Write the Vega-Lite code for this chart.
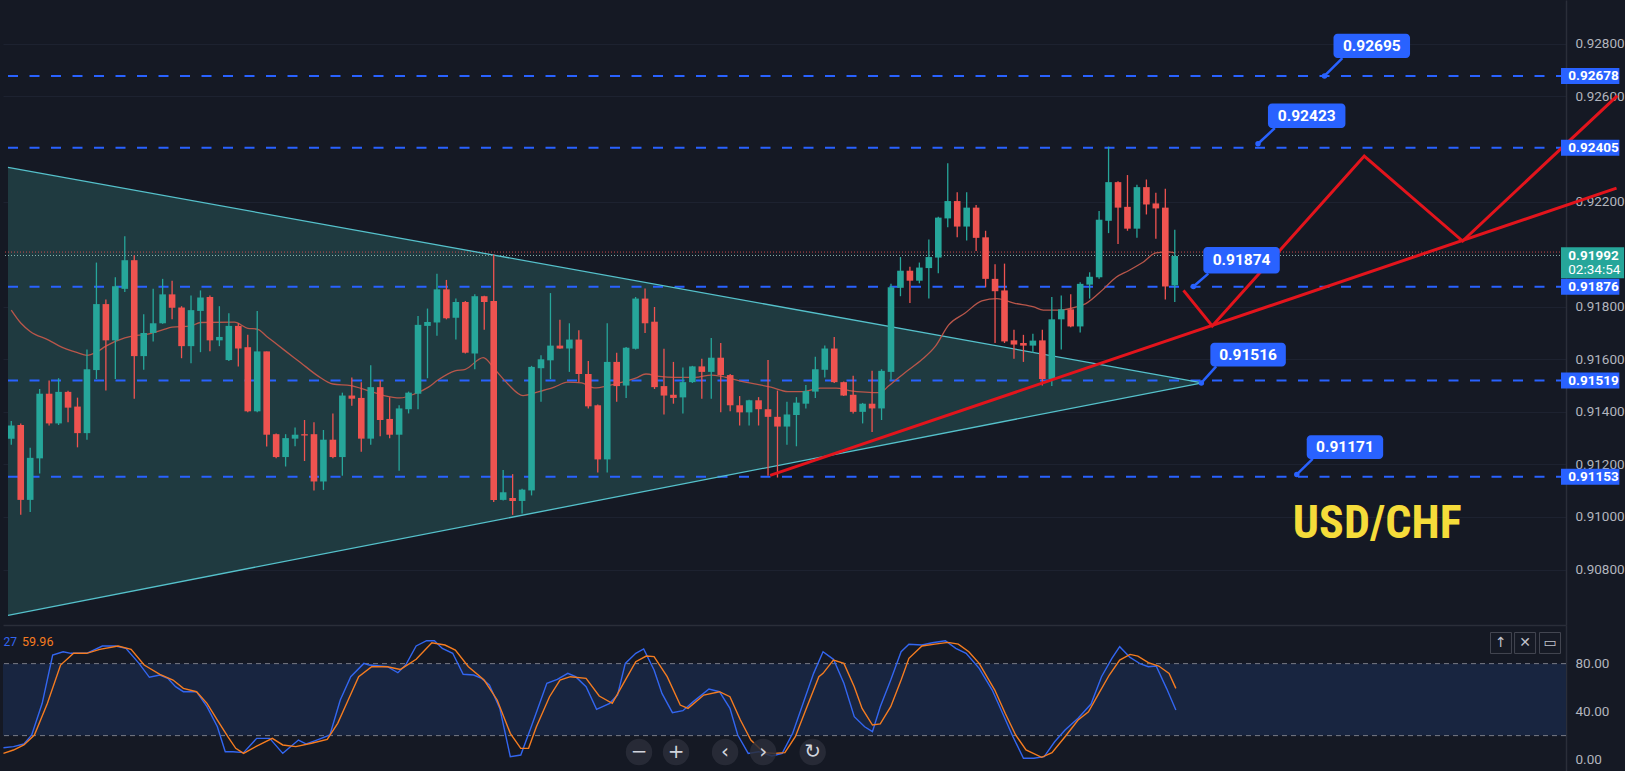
{
"$schema": "https://vega.github.io/schema/vega-lite/v6.json",
"background": "#151924",
"padding": 0,
"spacing": 0,
"config": {"view": {"stroke": null}, "font": "Roboto"},
"datasets": {
"one": [{}],
"candles": [
{"i":0,"o":0.91298,"h":0.91365,"l":0.91275,"c":0.91348},
{"i":1,"o":0.91350,"h":0.91356,"l":0.91008,"c":0.91065},
{"i":2,"o":0.91065,"h":0.91263,"l":0.91019,"c":0.91225},
{"i":3,"o":0.91223,"h":0.91487,"l":0.91165,"c":0.91469},
{"i":4,"o":0.91469,"h":0.91519,"l":0.91348,"c":0.91356},
{"i":5,"o":0.91356,"h":0.91528,"l":0.91350,"c":0.91476},
{"i":6,"o":0.91476,"h":0.91480,"l":0.91360,"c":0.91416},
{"i":7,"o":0.91420,"h":0.91454,"l":0.91265,"c":0.91319},
{"i":8,"o":0.91319,"h":0.91637,"l":0.91294,"c":0.91562},
{"i":9,"o":0.91559,"h":0.91968,"l":0.91525,"c":0.91810},
{"i":10,"o":0.91810,"h":0.91827,"l":0.91481,"c":0.91672},
{"i":11,"o":0.91672,"h":0.91912,"l":0.91525,"c":0.91878},
{"i":12,"o":0.91868,"h":0.92068,"l":0.91856,"c":0.91977},
{"i":13,"o":0.91977,"h":0.91996,"l":0.91450,"c":0.91612},
{"i":14,"o":0.91612,"h":0.91771,"l":0.91560,"c":0.91700},
{"i":15,"o":0.91700,"h":0.91868,"l":0.91668,"c":0.91737},
{"i":16,"o":0.91737,"h":0.91906,"l":0.91735,"c":0.91847},
{"i":17,"o":0.91847,"h":0.91899,"l":0.91752,"c":0.91796},
{"i":18,"o":0.91797,"h":0.91802,"l":0.91604,"c":0.91650},
{"i":19,"o":0.91650,"h":0.91843,"l":0.91585,"c":0.91787},
{"i":20,"o":0.91784,"h":0.91862,"l":0.91627,"c":0.91835},
{"i":21,"o":0.91837,"h":0.91843,"l":0.91631,"c":0.91672},
{"i":22,"o":0.91672,"h":0.91802,"l":0.91650,"c":0.91685},
{"i":23,"o":0.91597,"h":0.91775,"l":0.91593,"c":0.91727},
{"i":24,"o":0.91727,"h":0.91737,"l":0.91573,"c":0.91641},
{"i":25,"o":0.91646,"h":0.91693,"l":0.91398,"c":0.91402},
{"i":26,"o":0.91402,"h":0.91784,"l":0.91398,"c":0.91630},
{"i":27,"o":0.91630,"h":0.91630,"l":0.91268,"c":0.91313},
{"i":28,"o":0.91315,"h":0.91318,"l":0.91223,"c":0.91228},
{"i":29,"o":0.91228,"h":0.91315,"l":0.91192,"c":0.91300},
{"i":30,"o":0.91298,"h":0.91340,"l":0.91269,"c":0.91313},
{"i":31,"o":0.91315,"h":0.91369,"l":0.91213,"c":0.91310},
{"i":32,"o":0.91315,"h":0.91360,"l":0.91101,"c":0.91135},
{"i":33,"o":0.91135,"h":0.91331,"l":0.91103,"c":0.91294},
{"i":34,"o":0.91294,"h":0.91394,"l":0.91223,"c":0.91228},
{"i":35,"o":0.91228,"h":0.91473,"l":0.91157,"c":0.91462},
{"i":36,"o":0.91462,"h":0.91531,"l":0.91423,"c":0.91450},
{"i":37,"o":0.91453,"h":0.91513,"l":0.91248,"c":0.91298},
{"i":38,"o":0.91298,"h":0.91577,"l":0.91275,"c":0.91494},
{"i":39,"o":0.91494,"h":0.91519,"l":0.91307,"c":0.91369},
{"i":40,"o":0.91373,"h":0.91456,"l":0.91300,"c":0.91313},
{"i":41,"o":0.91313,"h":0.91425,"l":0.91176,"c":0.91413},
{"i":42,"o":0.91410,"h":0.91477,"l":0.91394,"c":0.91473},
{"i":43,"o":0.91469,"h":0.91765,"l":0.91410,"c":0.91731},
{"i":44,"o":0.91727,"h":0.91793,"l":0.91528,"c":0.91742},
{"i":45,"o":0.91740,"h":0.91925,"l":0.91690,"c":0.91866},
{"i":46,"o":0.91866,"h":0.91902,"l":0.91752,"c":0.91756},
{"i":47,"o":0.91758,"h":0.91831,"l":0.91675,"c":0.91818},
{"i":48,"o":0.91818,"h":0.91822,"l":0.91622,"c":0.91625},
{"i":49,"o":0.91622,"h":0.91847,"l":0.91562,"c":0.91840},
{"i":50,"o":0.91840,"h":0.91842,"l":0.91712,"c":0.91818},
{"i":51,"o":0.91822,"h":0.91999,"l":0.91057,"c":0.91065},
{"i":52,"o":0.91065,"h":0.91179,"l":0.91063,"c":0.91094},
{"i":53,"o":0.91072,"h":0.91163,"l":0.91008,"c":0.91061},
{"i":54,"o":0.91061,"h":0.91107,"l":0.91013,"c":0.91104},
{"i":55,"o":0.91101,"h":0.91575,"l":0.91082,"c":0.91571},
{"i":56,"o":0.91566,"h":0.91615,"l":0.91438,"c":0.91600},
{"i":57,"o":0.91596,"h":0.91852,"l":0.91525,"c":0.91652},
{"i":58,"o":0.91652,"h":0.91750,"l":0.91640,"c":0.91641},
{"i":59,"o":0.91641,"h":0.91737,"l":0.91552,"c":0.91675},
{"i":60,"o":0.91675,"h":0.91710,"l":0.91513,"c":0.91544},
{"i":61,"o":0.91544,"h":0.91593,"l":0.91413,"c":0.91421},
{"i":62,"o":0.91425,"h":0.91428,"l":0.91169,"c":0.91219},
{"i":63,"o":0.91219,"h":0.91737,"l":0.91169,"c":0.91590},
{"i":64,"o":0.91590,"h":0.91625,"l":0.91438,"c":0.91498},
{"i":65,"o":0.91500,"h":0.91647,"l":0.91453,"c":0.91644},
{"i":66,"o":0.91640,"h":0.91837,"l":0.91637,"c":0.91831},
{"i":67,"o":0.91831,"h":0.91869,"l":0.91700,"c":0.91737},
{"i":68,"o":0.91743,"h":0.91799,"l":0.91487,"c":0.91494},
{"i":69,"o":0.91498,"h":0.91640,"l":0.91390,"c":0.91462},
{"i":70,"o":0.91465,"h":0.91590,"l":0.91431,"c":0.91453},
{"i":71,"o":0.91455,"h":0.91569,"l":0.91394,"c":0.91513},
{"i":72,"o":0.91513,"h":0.91575,"l":0.91510,"c":0.91573},
{"i":73,"o":0.91573,"h":0.91602,"l":0.91450,"c":0.91552},
{"i":74,"o":0.91552,"h":0.91681,"l":0.91450,"c":0.91606},
{"i":75,"o":0.91606,"h":0.91662,"l":0.91398,"c":0.91540},
{"i":76,"o":0.91540,"h":0.91544,"l":0.91402,"c":0.91425},
{"i":77,"o":0.91425,"h":0.91460,"l":0.91348,"c":0.91398},
{"i":78,"o":0.91398,"h":0.91446,"l":0.91348,"c":0.91444},
{"i":79,"o":0.91444,"h":0.91456,"l":0.91348,"c":0.91410},
{"i":80,"o":0.91410,"h":0.91597,"l":0.91157,"c":0.91381},
{"i":81,"o":0.91381,"h":0.91481,"l":0.91150,"c":0.91344},
{"i":82,"o":0.91344,"h":0.91438,"l":0.91275,"c":0.91390},
{"i":83,"o":0.91388,"h":0.91456,"l":0.91269,"c":0.91435},
{"i":84,"o":0.91431,"h":0.91502,"l":0.91413,"c":0.91479},
{"i":85,"o":0.91477,"h":0.91610,"l":0.91453,"c":0.91562},
{"i":86,"o":0.91560,"h":0.91652,"l":0.91531,"c":0.91641},
{"i":87,"o":0.91641,"h":0.91685,"l":0.91510,"c":0.91513},
{"i":88,"o":0.91513,"h":0.91515,"l":0.91460,"c":0.91462},
{"i":89,"o":0.91465,"h":0.91537,"l":0.91394,"c":0.91400},
{"i":90,"o":0.91400,"h":0.91434,"l":0.91356,"c":0.91431},
{"i":91,"o":0.91431,"h":0.91556,"l":0.91323,"c":0.91413},
{"i":92,"o":0.91413,"h":0.91562,"l":0.91369,"c":0.91556},
{"i":93,"o":0.91552,"h":0.91887,"l":0.91522,"c":0.91874},
{"i":94,"o":0.91872,"h":0.91989,"l":0.91840,"c":0.91937},
{"i":95,"o":0.91937,"h":0.91952,"l":0.91814,"c":0.91899},
{"i":96,"o":0.91899,"h":0.91968,"l":0.91889,"c":0.91949},
{"i":97,"o":0.91947,"h":0.92056,"l":0.91831,"c":0.91989},
{"i":98,"o":0.91987,"h":0.92142,"l":0.91927,"c":0.92139},
{"i":99,"o":0.92136,"h":0.92346,"l":0.92102,"c":0.92202},
{"i":100,"o":0.92202,"h":0.92236,"l":0.92064,"c":0.92105},
{"i":101,"o":0.92105,"h":0.92236,"l":0.92052,"c":0.92177},
{"i":102,"o":0.92177,"h":0.92187,"l":0.92012,"c":0.92062},
{"i":103,"o":0.92064,"h":0.92089,"l":0.91874,"c":0.91906},
{"i":104,"o":0.91906,"h":0.91962,"l":0.91662,"c":0.91859},
{"i":105,"o":0.91862,"h":0.91964,"l":0.91662,"c":0.91668},
{"i":106,"o":0.91672,"h":0.91712,"l":0.91602,"c":0.91656},
{"i":107,"o":0.91662,"h":0.91693,"l":0.91590,"c":0.91652},
{"i":108,"o":0.91652,"h":0.91697,"l":0.91625,"c":0.91671},
{"i":109,"o":0.91672,"h":0.91712,"l":0.91500,"c":0.91525},
{"i":110,"o":0.91525,"h":0.91837,"l":0.91498,"c":0.91752},
{"i":111,"o":0.91752,"h":0.91843,"l":0.91637,"c":0.91790},
{"i":112,"o":0.91790,"h":0.91847,"l":0.91722,"c":0.91725},
{"i":113,"o":0.91725,"h":0.91893,"l":0.91702,"c":0.91887},
{"i":114,"o":0.91884,"h":0.91931,"l":0.91831,"c":0.91914},
{"i":115,"o":0.91912,"h":0.92164,"l":0.91906,"c":0.92131},
{"i":116,"o":0.92127,"h":0.92409,"l":0.92080,"c":0.92274},
{"i":117,"o":0.92274,"h":0.92277,"l":0.92039,"c":0.92177},
{"i":118,"o":0.92180,"h":0.92301,"l":0.92089,"c":0.92097},
{"i":119,"o":0.92097,"h":0.92264,"l":0.92062,"c":0.92255},
{"i":120,"o":0.92255,"h":0.92284,"l":0.92151,"c":0.92189},
{"i":121,"o":0.92193,"h":0.92234,"l":0.92059,"c":0.92174},
{"i":122,"o":0.92177,"h":0.92249,"l":0.91827,"c":0.91877},
{"i":123,"o":0.91881,"h":0.92093,"l":0.91818,"c":0.91993}
],
"ma": [
{"i":0,"v":0.91787},{"i":1,"v":0.91738},{"i":2,"v":0.91706},{"i":4,"v":0.91672},{"i":5,"v":0.91652},{"i":7,"v":0.91625},{"i":8,"v":0.91615},{"i":9,"v":0.91627},{"i":10,"v":0.91650},{"i":12,"v":0.91681},{"i":13,"v":0.91690},{"i":14,"v":0.91693},{"i":16,"v":0.91712},{"i":17,"v":0.91722},{"i":19,"v":0.91727},{"i":20,"v":0.91740},{"i":23.6,"v":0.91741},{"i":25,"v":0.91718},{"i":26,"v":0.91715},{"i":27,"v":0.91687},{"i":29,"v":0.91631},{"i":30.6,"v":0.91587},{"i":32.4,"v":0.91537},{"i":34,"v":0.91506},{"i":35.9,"v":0.91500},{"i":37.7,"v":0.91481},{"i":39.4,"v":0.91462},{"i":41.1,"v":0.91453},{"i":42.7,"v":0.91469},{"i":44.1,"v":0.91494},{"i":45.1,"v":0.91521},{"i":46.9,"v":0.91556},{"i":48,"v":0.91562},{"i":49.9,"v":0.91606},{"i":51.1,"v":0.91562},{"i":52.5,"v":0.91506},{"i":54.1,"v":0.91462},{"i":55.6,"v":0.91475},{"i":57.4,"v":0.91494},{"i":58.8,"v":0.91513},{"i":60.3,"v":0.91510},{"i":61.6,"v":0.91491},{"i":63.2,"v":0.91500},{"i":64.6,"v":0.91513},{"i":66,"v":0.91528},{"i":67.1,"v":0.91544},{"i":68.5,"v":0.91535},{"i":70.2,"v":0.91531},{"i":72.3,"v":0.91531},{"i":74,"v":0.91540},{"i":75.1,"v":0.91535},{"i":76.9,"v":0.91519},{"i":78.6,"v":0.91506},{"i":80.3,"v":0.91494},{"i":82.1,"v":0.91477},{"i":83.7,"v":0.91477},{"i":85.5,"v":0.91490},{"i":87.2,"v":0.91490},{"i":88.6,"v":0.91481},{"i":90.3,"v":0.91475},{"i":91.8,"v":0.91473},{"i":92.8,"v":0.91500},{"i":94.5,"v":0.91550},{"i":96.3,"v":0.91600},{"i":97.7,"v":0.91650},{"i":99.1,"v":0.91731},{"i":100.8,"v":0.91775},{"i":102.6,"v":0.91822},{"i":104.2,"v":0.91831},{"i":106,"v":0.91814},{"i":108.1,"v":0.91799},{"i":109.1,"v":0.91787},{"i":110.8,"v":0.91787},{"i":112.6,"v":0.91799},{"i":113.6,"v":0.91812},{"i":115.4,"v":0.91865},{"i":116.8,"v":0.91912},{"i":118.1,"v":0.91937},{"i":119.6,"v":0.91968},{"i":121,"v":0.92005},{"i":122.3,"v":0.92009},{"i":123,"v":0.92005}
],
"levels": [{"p":0.92678},{"p":0.92405},{"p":0.91876},{"p":0.91519},{"p":0.91153}],
"tri": [{"i":-0.347,"lo":0.90626,"hi":0.92330},{"i":125.9,"lo":0.91510,"hi":0.91510}],
"edges": [{"i":-0.347,"p":0.92330,"e":"u"},{"i":125.9,"p":0.91510,"e":"u"},{"i":-0.347,"p":0.90626,"e":"l"},{"i":125.9,"p":0.91510,"e":"l"}],
"trend": [{"i":80.22,"p":0.91158},{"i":169.7,"p":0.92251}],
"zigzag": [{"i":123.92,"p":0.91862},{"i":126.96,"p":0.91727},{"i":143.03,"p":0.92373},{"i":153.43,"p":0.92050},{"i":169.8,"p":0.92603}],
"callouts": [
{"t":"0.92695","x1":139.78,"x2":147.87,"y1":0.92746,"y2":0.92839,"tx":143.83,"ty":0.92792,"ax":140.72,"ay":0.92746,"bx":138.83,"by":0.92678},
{"t":"0.92423","x1":132.85,"x2":141.04,"y1":0.92480,"y2":0.92573,"tx":136.95,"ty":0.92526,"ax":133.58,"ay":0.92480,"bx":131.8,"by":0.92420},
{"t":"0.91874","x1":126.02,"x2":134.1,"y1":0.91926,"y2":0.92027,"tx":130.06,"ty":0.91976,"ax":126.54,"ay":0.91926,"bx":124.97,"by":0.91877},
{"t":"0.91516","x1":126.76,"x2":134.74,"y1":0.91573,"y2":0.91663,"tx":130.75,"ty":0.91618,"ax":127.38,"ay":0.91573,"bx":125.81,"by":0.91510},
{"t":"0.91171","x1":136.95,"x2":145.03,"y1":0.91221,"y2":0.91311,"tx":140.99,"ty":0.91266,"ax":137.58,"ay":0.91221,"bx":135.9,"by":0.91162}
],
"axlabels": [{"p":0.92678,"t":"0.92678"},{"p":0.92405,"t":"0.92405"},{"p":0.91876,"t":"0.91876"},{"p":0.91519,"t":"0.91519"},{"p":0.91153,"t":"0.91153"}],
"k": [
{"i":-0.3,"v":9.9},{"i":0.75,"v":10.8},{"i":1.85,"v":13.0},{"i":2.67,"v":20.5},{"i":3.77,"v":46.9},{"i":4.87,"v":87.2},{"i":5.97,"v":89.9},{"i":6.79,"v":88.6},{"i":8.44,"v":88.6},{"i":10.09,"v":94.7},{"i":11.46,"v":94.7},{"i":12.56,"v":92.7},{"i":13.94,"v":80.2},{"i":15.03,"v":68.6},{"i":16.13,"v":70.5},{"i":16.96,"v":67.7},{"i":17.78,"v":60.8},{"i":18.6,"v":56.6},{"i":19.98,"v":56.6},{"i":21.08,"v":44.1},{"i":22.17,"v":27.4},{"i":23.0,"v":6.6},{"i":23.82,"v":6.6},{"i":24.92,"v":5.8},{"i":26.3,"v":17.7},{"i":27.67,"v":17.7},{"i":29.04,"v":5.2},{"i":30.69,"v":16.3},{"i":31.51,"v":13.0},{"i":32.61,"v":16.3},{"i":33.99,"v":20.5},{"i":35.08,"v":49.7},{"i":36.18,"v":69.1},{"i":37.56,"v":80.2},{"i":38.11,"v":78.8},{"i":40.03,"v":77.4},{"i":41.13,"v":72.4},{"i":41.95,"v":78.8},{"i":43.05,"v":94.7},{"i":44.15,"v":99.1},{"i":44.97,"v":99.1},{"i":45.8,"v":92.7},{"i":46.89,"v":88.6},{"i":47.99,"v":71.1},{"i":49.09,"v":70.5},{"i":49.92,"v":67.7},{"i":50.74,"v":62.2},{"i":51.84,"v":42.7},{"i":52.94,"v":2.4},{"i":54.04,"v":3.8},{"i":55.14,"v":27.4},{"i":56.78,"v":63.6},{"i":57.88,"v":66.9},{"i":58.98,"v":71.9},{"i":59.8,"v":69.1},{"i":60.9,"v":60.8},{"i":62.0,"v":41.9},{"i":63.38,"v":46.9},{"i":64.2,"v":53.8},{"i":65.02,"v":80.2},{"i":66.12,"v":88.6},{"i":66.95,"v":92.2},{"i":68.04,"v":74.7},{"i":68.87,"v":55.2},{"i":69.97,"v":39.1},{"i":71.07,"v":40.8},{"i":72.16,"v":48.3},{"i":73.81,"v":58.8},{"i":74.91,"v":56.6},{"i":76.01,"v":42.7},{"i":76.83,"v":20.5},{"i":77.93,"v":5.2},{"i":79.03,"v":6.6},{"i":80.41,"v":3.0},{"i":81.5,"v":5.2},{"i":82.6,"v":21.9},{"i":83.7,"v":46.9},{"i":84.8,"v":71.9},{"i":85.79,"v":89.9},{"i":86.88,"v":83.6},{"i":87.98,"v":63.6},{"i":89.07,"v":35.8},{"i":90.16,"v":27.4},{"i":90.98,"v":23.3},{"i":91.8,"v":44.1},{"i":92.9,"v":66.3},{"i":93.99,"v":89.9},{"i":94.81,"v":96.1},{"i":96.18,"v":95.5},{"i":97.27,"v":97.4},{"i":98.64,"v":99.1},{"i":99.73,"v":92.7},{"i":100.82,"v":88.6},{"i":102.19,"v":76.1},{"i":103.56,"v":58.0},{"i":104.65,"v":38.6},{"i":105.74,"v":19.1},{"i":106.84,"v":1.1},{"i":107.93,"v":1.1},{"i":109.02,"v":2.4},{"i":110.12,"v":14.9},{"i":111.21,"v":24.7},{"i":112.58,"v":34.4},{"i":113.94,"v":46.3},{"i":115.04,"v":69.1},{"i":116.13,"v":84.4},{"i":116.95,"v":94.1},{"i":118.04,"v":85.2},{"i":119.14,"v":79.7},{"i":119.96,"v":77.4},{"i":120.78,"v":78.0},{"i":121.87,"v":59.4},{"i":122.85,"v":41.3}
],
"d": [
{"i":-0.3,"v":5.2},{"i":0.75,"v":8.0},{"i":1.85,"v":12.2},{"i":2.95,"v":20.5},{"i":4.32,"v":46.9},{"i":5.7,"v":78.8},{"i":7.07,"v":88.6},{"i":8.44,"v":88.6},{"i":9.82,"v":91.9},{"i":11.74,"v":94.7},{"i":13.11,"v":91.9},{"i":14.48,"v":78.8},{"i":16.13,"v":71.1},{"i":17.51,"v":66.3},{"i":18.6,"v":59.4},{"i":19.98,"v":56.6},{"i":21.08,"v":46.9},{"i":22.17,"v":33.0},{"i":23.27,"v":19.1},{"i":24.1,"v":9.4},{"i":24.92,"v":5.2},{"i":26.3,"v":11.3},{"i":27.94,"v":17.7},{"i":29.04,"v":12.2},{"i":30.41,"v":10.8},{"i":32.06,"v":13.6},{"i":33.71,"v":16.9},{"i":34.81,"v":30.2},{"i":35.91,"v":49.7},{"i":37.01,"v":69.1},{"i":38.38,"v":77.4},{"i":40.03,"v":77.4},{"i":41.4,"v":75.2},{"i":43.05,"v":83.6},{"i":44.7,"v":97.4},{"i":46.07,"v":95.5},{"i":47.17,"v":91.3},{"i":48.54,"v":77.4},{"i":50.19,"v":66.3},{"i":51.56,"v":49.7},{"i":52.94,"v":21.9},{"i":54.04,"v":9.4},{"i":54.86,"v":9.4},{"i":55.68,"v":27.4},{"i":57.06,"v":52.4},{"i":58.16,"v":66.3},{"i":59.25,"v":69.1},{"i":60.9,"v":67.7},{"i":62.28,"v":53.0},{"i":63.65,"v":46.9},{"i":65.02,"v":66.3},{"i":66.12,"v":81.6},{"i":67.22,"v":86.3},{"i":68.04,"v":85.8},{"i":69.42,"v":69.1},{"i":70.79,"v":45.5},{"i":71.61,"v":42.7},{"i":73.26,"v":53.8},{"i":74.91,"v":56.6},{"i":76.01,"v":52.4},{"i":77.11,"v":33.0},{"i":78.21,"v":16.3},{"i":79.58,"v":5.8},{"i":80.68,"v":5.2},{"i":81.78,"v":5.8},{"i":82.88,"v":19.1},{"i":83.97,"v":41.3},{"i":85.35,"v":69.1},{"i":85.79,"v":71.9},{"i":86.88,"v":83.0},{"i":87.98,"v":80.2},{"i":89.07,"v":60.8},{"i":89.89,"v":42.7},{"i":90.98,"v":28.8},{"i":91.8,"v":29.7},{"i":92.9,"v":44.1},{"i":93.99,"v":66.3},{"i":94.81,"v":84.4},{"i":96.18,"v":94.7},{"i":97.54,"v":96.3},{"i":98.91,"v":97.7},{"i":100.0,"v":96.3},{"i":101.1,"v":89.9},{"i":102.19,"v":80.2},{"i":103.83,"v":58.0},{"i":104.92,"v":38.6},{"i":106.02,"v":20.5},{"i":107.11,"v":8.0},{"i":108.75,"v":1.9},{"i":109.84,"v":5.8},{"i":111.21,"v":19.1},{"i":112.58,"v":33.0},{"i":113.67,"v":39.9},{"i":114.76,"v":55.2},{"i":115.86,"v":70.5},{"i":116.95,"v":83.0},{"i":118.04,"v":87.7},{"i":118.86,"v":86.3},{"i":119.96,"v":80.8},{"i":121.05,"v":78.0},{"i":122.14,"v":71.9},{"i":122.85,"v":59.4}
],
"navbtn": [{"i":66.46,"t":"−"},{"i":70.35,"t":"+"},{"i":75.5,"t":"‹"},{"i":79.5,"t":"›"},{"i":84.7,"t":"↻"}],
"panebtn": [{"i":157.0,"t":"↑"},{"i":159.53,"t":"✕"},{"i":162.15,"t":"▭"}]
},
"vconcat": [
{
"width": 1563,
"height": 625,
"layer": [
{"data": {"name": "tri"}, "mark": {"type": "area", "color": "#1f3a40", "opacity": 1},
 "encoding": {
  "x": {"field": "i", "type": "quantitative", "scale": {"domain": [-0.347, 163.83], "nice": false, "zero": false},
        "axis": {"orient": "bottom", "labels": false, "ticks": false, "grid": false, "title": null, "domain": true, "domainColor": "#2a2e39", "domainWidth": 1.5}},
  "y": {"field": "lo", "type": "quantitative", "scale": {"domain": [0.90608, 0.92948], "nice": false, "zero": false},
        "axis": {"orient": "right", "values": [0.928, 0.926, 0.922, 0.918, 0.916, 0.914, 0.912, 0.91, 0.908], "format": ".5f", "title": null, "labelColor": "#b2b5be", "labelFontSize": 13.5, "labelFont": "Roboto", "ticks": false, "labelPadding": 9, "domainColor": "#2a2e39", "domainWidth": 1.5, "grid": true, "gridColor": "#1d2230", "labelOverlap": false, "labelFlush": false}},
  "y2": {"field": "hi"}
 }},
{"data": {"name": "levels"}, "mark": {"type": "rule", "color": "#2962ff", "strokeWidth": 2, "strokeDash": [10, 11.5]},
 "encoding": {"y": {"field": "p", "type": "quantitative"}}},
{"data": {"name": "one"}, "mark": {"type": "rule", "color": "#ef5350", "strokeWidth": 1, "strokeDash": [1, 2], "opacity": 0.8},
 "encoding": {"y": {"datum": 0.92008}}},
{"data": {"name": "one"}, "mark": {"type": "rule", "color": "#a8d8d0", "strokeWidth": 1, "strokeDash": [1, 2], "opacity": 0.8},
 "encoding": {"y": {"datum": 0.91995}}},
{"data": {"name": "edges"}, "mark": {"type": "line", "color": "#55c1cb", "strokeWidth": 1.3},
 "encoding": {"x": {"field": "i", "type": "quantitative"}, "y": {"field": "p", "type": "quantitative"}, "detail": {"field": "e"}}},
{"data": {"name": "ma"}, "mark": {"type": "line", "color": "#b8564a", "strokeWidth": 1.3, "interpolate": "monotone"},
 "encoding": {"x": {"field": "i", "type": "quantitative"}, "y": {"field": "v", "type": "quantitative"}}},
{"data": {"name": "candles"}, "mark": {"type": "rule", "strokeWidth": 1.3},
 "encoding": {"x": {"field": "i", "type": "quantitative"}, "y": {"field": "l", "type": "quantitative"}, "y2": {"field": "h"},
  "color": {"condition": {"test": "datum.c >= datum.o", "value": "#26a69a"}, "value": "#ef5350"}}},
{"data": {"name": "candles"}, "mark": {"type": "bar", "size": 6.6},
 "encoding": {"x": {"field": "i", "type": "quantitative"}, "y": {"field": "o", "type": "quantitative"}, "y2": {"field": "c"},
  "color": {"condition": {"test": "datum.c >= datum.o", "value": "#26a69a"}, "value": "#ef5350"}}},
{"data": {"name": "trend"}, "mark": {"type": "line", "color": "#e3141c", "strokeWidth": 3},
 "encoding": {"x": {"field": "i", "type": "quantitative"}, "y": {"field": "p", "type": "quantitative"}}},
{"data": {"name": "zigzag"}, "mark": {"type": "line", "color": "#e3141c", "strokeWidth": 3},
 "encoding": {"x": {"field": "i", "type": "quantitative"}, "y": {"field": "p", "type": "quantitative"}}},
{"data": {"name": "callouts"}, "mark": {"type": "rule", "color": "#2962ff", "strokeWidth": 2.5},
 "encoding": {"x": {"field": "ax", "type": "quantitative"}, "y": {"field": "ay", "type": "quantitative"}, "x2": {"field": "bx"}, "y2": {"field": "by"}}},
{"data": {"name": "callouts"}, "mark": {"type": "point", "filled": true, "color": "#2962ff", "size": 30, "opacity": 1},
 "encoding": {"x": {"field": "bx", "type": "quantitative"}, "y": {"field": "by", "type": "quantitative"}}},
{"data": {"name": "callouts"}, "mark": {"type": "rect", "color": "#2962ff", "cornerRadius": 4},
 "encoding": {"x": {"field": "x1", "type": "quantitative"}, "x2": {"field": "x2"}, "y": {"field": "y1", "type": "quantitative"}, "y2": {"field": "y2"}}},
{"data": {"name": "callouts"}, "mark": {"type": "text", "color": "#ffffff", "fontWeight": "bold", "fontSize": 15.5, "font": "Roboto", "align": "center", "baseline": "middle"},
 "encoding": {"x": {"field": "tx", "type": "quantitative"}, "y": {"field": "ty", "type": "quantitative"}, "text": {"field": "t"}}},
{"data": {"name": "one"}, "mark": {"type": "text", "color": "#f5dc3a", "fontWeight": "bold", "fontSize": 46, "font": "Liberation Sans Narrow, Roboto Condensed, Roboto", "align": "center", "baseline": "middle", "text": "USD/CHF"},
 "encoding": {"x": {"datum": 144.4}, "y": {"datum": 0.90974}}},
{"data": {"name": "axlabels"}, "mark": {"type": "bar", "orient": "horizontal", "color": "#2962ff", "size": 16},
 "encoding": {"x": {"datum": 163.83}, "x2": {"datum": 170.0}, "y": {"field": "p", "type": "quantitative"}}},
{"data": {"name": "axlabels"}, "mark": {"type": "text", "color": "#ffffff", "fontWeight": "bold", "fontSize": 13.5, "font": "Roboto", "align": "left", "baseline": "middle"},
 "encoding": {"x": {"datum": 164.6}, "y": {"field": "p", "type": "quantitative"}, "text": {"field": "t"}}},
{"data": {"name": "one"}, "mark": {"type": "bar", "orient": "horizontal", "color": "#26a69a", "size": 31},
 "encoding": {"x": {"datum": 163.83}, "x2": {"datum": 170.5}, "y": {"datum": 0.91967}}},
{"data": {"name": "one"}, "mark": {"type": "text", "color": "#ffffff", "fontWeight": "bold", "fontSize": 13.5, "font": "Roboto", "align": "left", "baseline": "middle", "text": "0.91992"},
 "encoding": {"x": {"datum": 164.6}, "y": {"datum": 0.91994}}},
{"data": {"name": "one"}, "mark": {"type": "text", "color": "#ffffff", "fontSize": 13.5, "font": "Roboto", "align": "left", "baseline": "middle", "text": "02:34:54"},
 "encoding": {"x": {"datum": 164.6}, "y": {"datum": 0.91939}}}
]
},
{
"width": 1563,
"height": 146,
"layer": [
{"data": {"name": "one"}, "mark": {"type": "rect", "color": "#182540"},
 "encoding": {
  "x": {"datum": -0.347, "type": "quantitative", "scale": {"domain": [-0.347, 163.83], "nice": false, "zero": false}, "axis": null},
  "x2": {"datum": 163.83},
  "y": {"datum": 20, "type": "quantitative", "scale": {"domain": [-9.5, 112.2], "nice": false, "zero": false},
        "axis": {"orient": "right", "values": [0, 40, 80], "format": ".2f", "title": null, "labelColor": "#b2b5be", "labelFontSize": 13.5, "labelFont": "Roboto", "ticks": false, "labelPadding": 9, "domainColor": "#2a2e39", "domainWidth": 1.5, "grid": false, "labelFlush": false}},
  "y2": {"datum": 80}
 }},
{"data": {"name": "one"}, "mark": {"type": "rule", "color": "#787b86", "strokeWidth": 1, "strokeDash": [5, 4]},
 "encoding": {"y": {"datum": 80}}},
{"data": {"name": "one"}, "mark": {"type": "rule", "color": "#787b86", "strokeWidth": 1, "strokeDash": [5, 4]},
 "encoding": {"y": {"datum": 20}}},
{"data": {"name": "k"}, "mark": {"type": "line", "color": "#3366f0", "strokeWidth": 1.4},
 "encoding": {"x": {"field": "i", "type": "quantitative"}, "y": {"field": "v", "type": "quantitative"}}},
{"data": {"name": "d"}, "mark": {"type": "line", "color": "#f57c20", "strokeWidth": 1.4},
 "encoding": {"x": {"field": "i", "type": "quantitative"}, "y": {"field": "v", "type": "quantitative"}}},
{"data": {"name": "one"}, "mark": {"type": "text", "color": "#3366f0", "fontSize": 12, "font": "Roboto", "align": "left", "baseline": "middle", "text": "27"},
 "encoding": {"x": {"datum": -0.3}, "y": {"datum": 98}}},
{"data": {"name": "one"}, "mark": {"type": "text", "color": "#f57c20", "fontSize": 12.5, "font": "Roboto", "align": "left", "baseline": "middle", "text": "59.96"},
 "encoding": {"x": {"datum": 1.65}, "y": {"datum": 98}}},
{"data": {"name": "navbtn"}, "mark": {"type": "point", "shape": "circle", "filled": true, "color": "#2a2e39", "size": 700, "opacity": 0.85},
 "encoding": {"x": {"field": "i", "type": "quantitative"}, "y": {"datum": 6.3}}},
{"data": {"name": "navbtn"}, "mark": {"type": "text", "color": "#d1d4dc", "fontSize": 20, "font": "DejaVu Sans", "align": "center", "baseline": "middle"},
 "encoding": {"x": {"field": "i", "type": "quantitative"}, "y": {"datum": 6.3}, "text": {"field": "t"}}},
{"data": {"name": "panebtn"}, "mark": {"type": "point", "shape": "square", "filled": true, "fill": "#161a25", "stroke": "#434651", "strokeWidth": 1, "size": 440, "opacity": 1},
 "encoding": {"x": {"field": "i", "type": "quantitative"}, "y": {"datum": 97.2}}},
{"data": {"name": "panebtn"}, "mark": {"type": "text", "color": "#c0c3cc", "fontSize": 14, "font": "DejaVu Sans", "align": "center", "baseline": "middle"},
 "encoding": {"x": {"field": "i", "type": "quantitative"}, "y": {"datum": 97.2}, "text": {"field": "t"}}}
]
}
]
}
